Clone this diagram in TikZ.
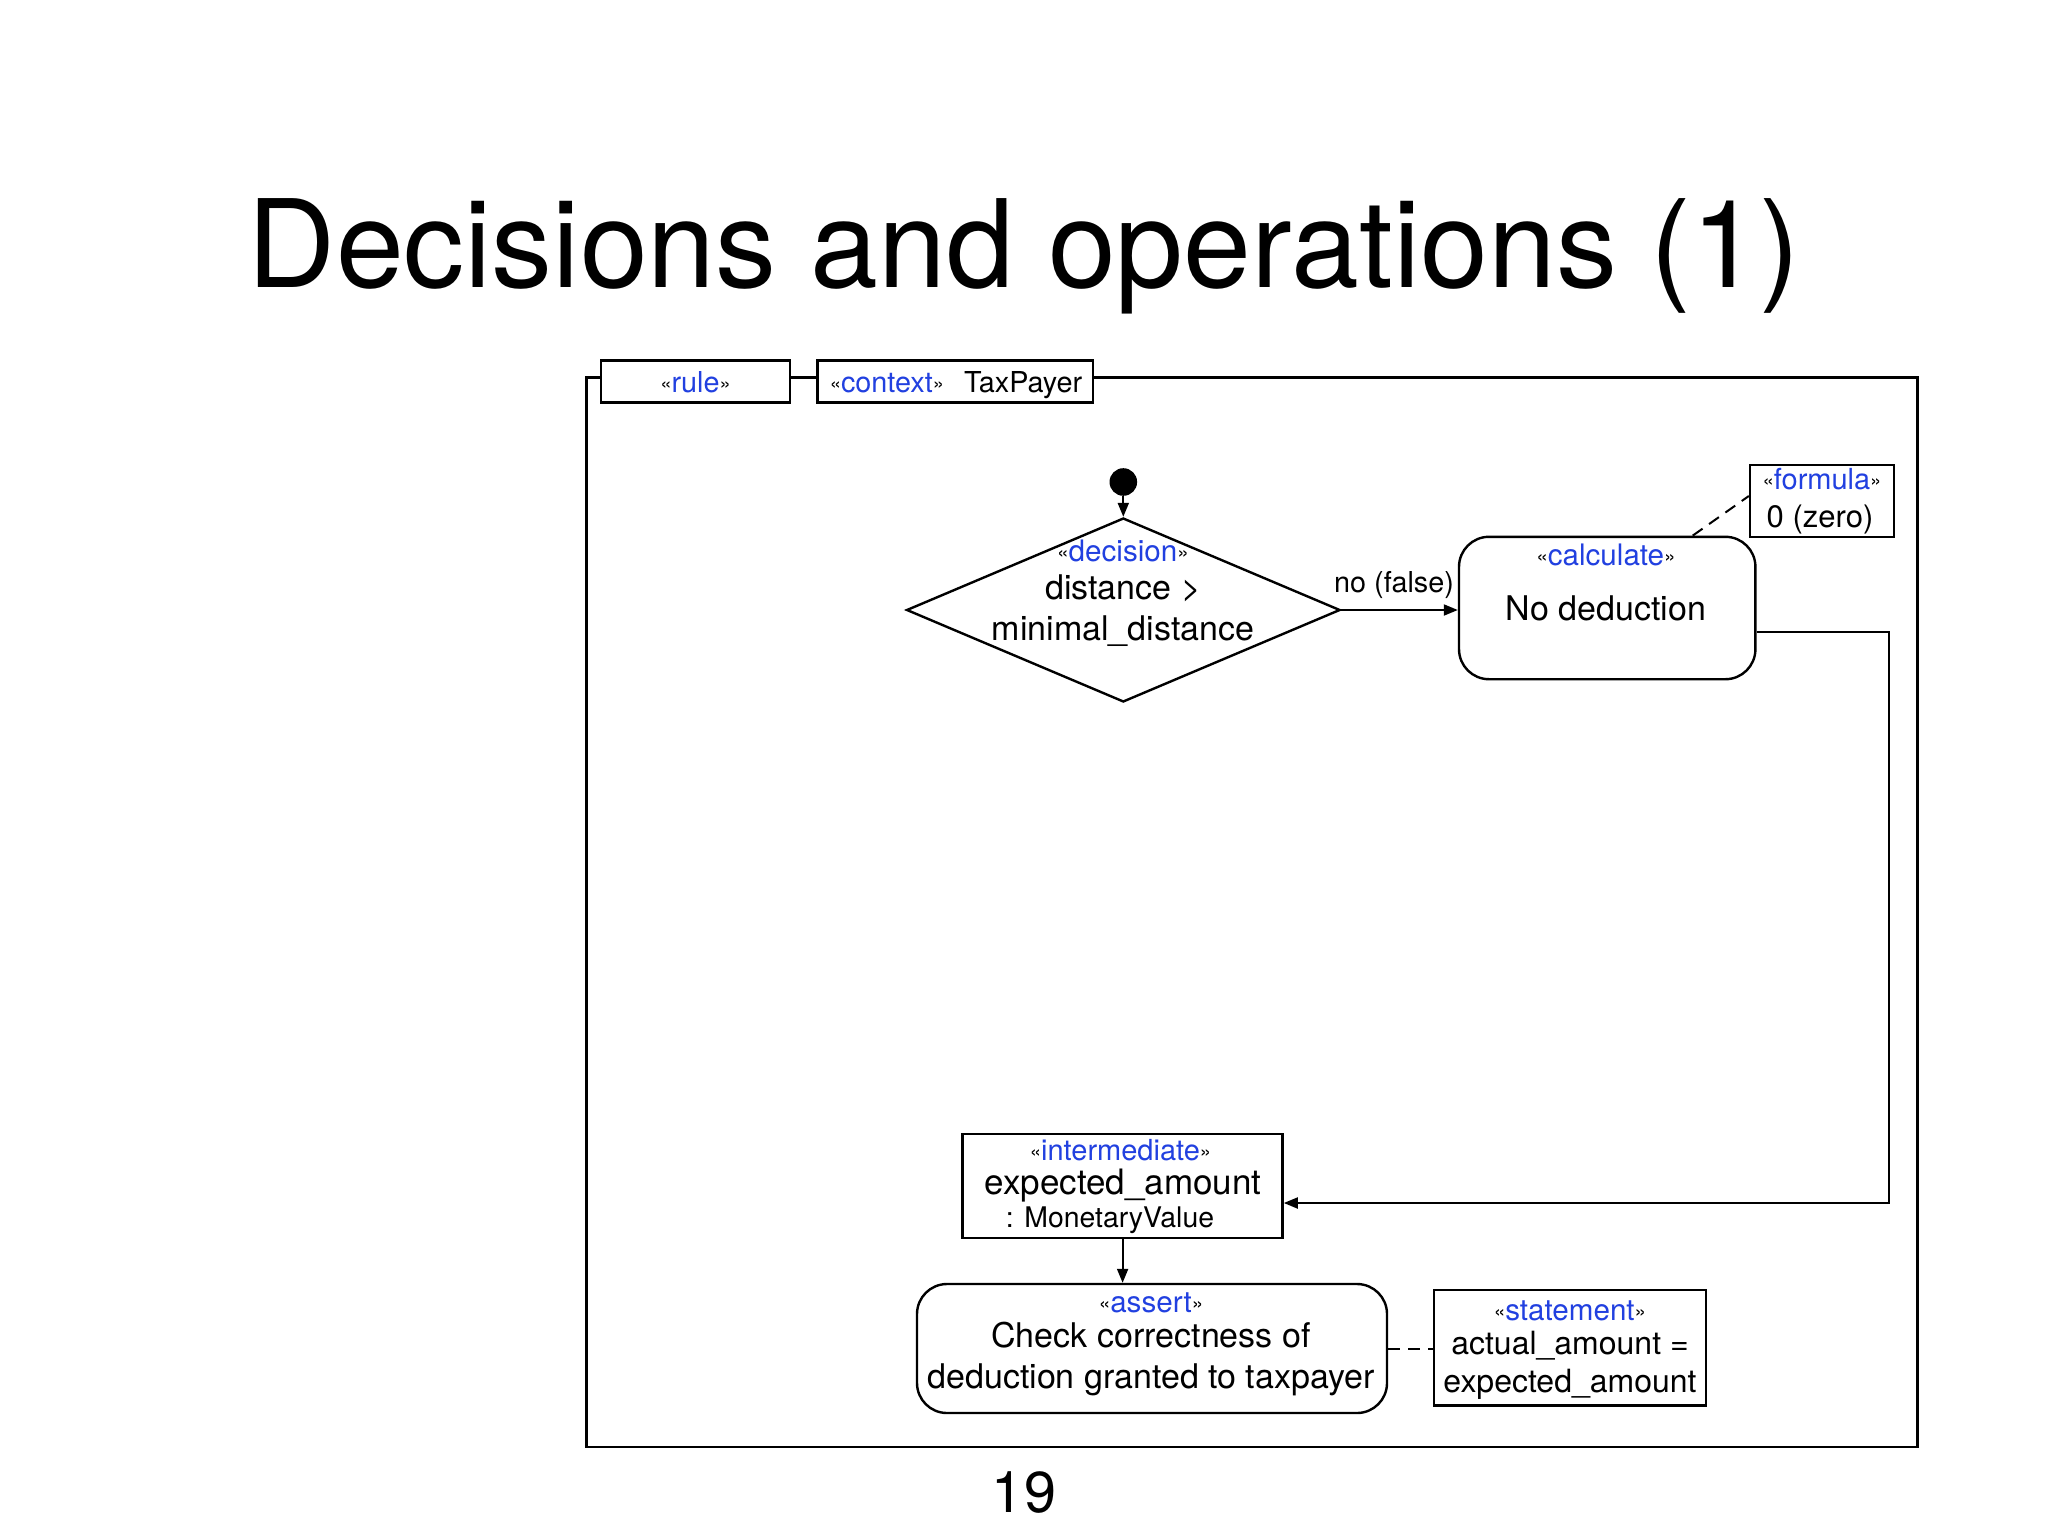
\documentclass[tikz,border=0pt]{standalone}
\usepackage{fontspec}
\setmainfont{TeX Gyre Heros}
\usetikzlibrary{shapes.geometric,arrows.meta,calc}
\definecolor{stblue}{RGB}{33,64,224}
\newcommand\stt[1]{\raisebox{0.05em}{\scalebox{0.7}{«}}\textcolor{stblue}{#1}\raisebox{0.05em}{\scalebox{0.7}{»}}}
\newcommand\fsz[1]{\fontsize{#1}{#1}\selectfont}
\begin{document}
\begin{tikzpicture}[x=0.5pt,y=-0.5pt,
  lbl/.style={inner sep=0pt, anchor=base},
  box/.style={draw, line width=1.2pt, fill=white, inner sep=0pt},
  rbox/.style={box, rounded corners=15pt},
  arr/.style={-{Triangle[length=7pt,width=5.5pt]}, line width=1pt},
  dsh/.style={line width=1pt, dash pattern=on 6pt off 4pt}]
\useasboundingbox[fill=white] (0,0) rectangle (2048,1536);

% title and page number
\node[lbl, font=\fsz{61}] (title) at (1024,287) {Decisions and operations (1)};
\node[lbl, font=\fsz{28.8}] (pnum) at (1024,1512) {19};

% frame
\node[draw, line width=1.1pt, minimum width=665.5pt, minimum height=534.85pt, inner sep=0pt] (frame) at (1251.9,912.35) {};
\node[box, minimum width=94.7pt, minimum height=20.9pt] (rule) at (695.5,381.4) {};
\node[box, minimum width=137.8pt, minimum height=20.9pt] (ctx) at (955.4,381.4) {};
\node[lbl, font=\fsz{14.4}] (rulet) at (695.5,392) {\stt{rule}};
\node[lbl, font=\fsz{14.4}] (ctxt) at (956,392) {\stt{context}\hspace{0.7em}TaxPayer};

% start and decision
\node[circle, fill=black, minimum size=13.8pt, inner sep=0pt] (start) at (1123.3,482) {};
\node[diamond, draw, line width=1.2pt, minimum width=216.8pt, minimum height=92pt, inner sep=0pt] (dec) at (1123.3,610) {};
\node[lbl, font=\fsz{14.8}] (dect1) at (1123,561) {\stt{decision}};
\node[lbl, font=\fsz{17}] (dect2) at (1123,599) {distance >};
\node[lbl, font=\fsz{17}] (dect3) at (1123,640) {minimal\_distance};

% calculate
\node[rbox, minimum width=148.2pt, minimum height=71.2pt] (calc) at (1607.2,608) {};
\node[lbl, font=\fsz{14.8}] (calct1) at (1606,565) {\stt{calculate}};
\node[lbl, font=\fsz{17}] (calct2) at (1606,620.5) {No deduction};

% formula
\node[box, minimum width=72pt, minimum height=36pt] (form) at (1822,501) {};
\node[lbl, font=\fsz{14.5}] (formt1) at (1822,489) {\stt{formula}};
\node[lbl, font=\fsz{15.5}] (formt2) at (1820,527) {0 (zero)};

% intermediate
\node[box, minimum width=160pt, minimum height=52.25pt] (inter) at (1122.6,1186) {};
\node[lbl, font=\fsz{14.5}] (intt1) at (1120.5,1160) {\stt{intermediate}};
\node[lbl, font=\fsz{17.5}] (intt2) at (1123,1194) {expected\_amount};
\node[lbl, font=\fsz{14.2}] (intt3) at (1110,1227) {: MonetaryValue};

% assert
\node[rbox, minimum width=235pt, minimum height=64.5pt] (assert) at (1152,1348.5) {};
\node[lbl, font=\fsz{14.8}] (asst1) at (1151,1312) {\stt{assert}};
\node[lbl, font=\fsz{17}] (asst2) at (1151,1347) {Check correctness of};
\node[lbl, font=\fsz{17}] (asst3) at (1151,1388) {deduction granted to taxpayer};

% statement
\node[box, minimum width=136pt, minimum height=57.7pt] (stmt) at (1570,1347.7) {};
\node[lbl, font=\fsz{14.8}] (stmt1) at (1570,1320) {\stt{statement}};
\node[lbl, font=\fsz{16}] (stmt2) at (1570,1354) {actual\_amount =};
\node[lbl, font=\fsz{16}] (stmt3) at (1570,1392) {expected\_amount};

% connectors
\draw[arr] (start) -- (dec.north);
\draw[arr] (dec.east) -- (dec.east -| calc.west);
\node[lbl, font=\fsz{14.4}] (nolbl) at (1394,592) {no (false)};
\coordinate (c1) at (1888.6,632);
\coordinate (c2) at (1888.6,1203);
\draw[arr] (c1 -| calc.east) -- (c1) -- (c2) -- (c2 -| inter.east);
\draw[arr] (inter.south) -- (inter.south |- assert.north);
\draw[dsh] ($(calc.north)+(85.5,0)$) -- ($(form.west)+(0,-5)$);
\draw[dsh] (assert.east) -- (assert.east -| stmt.west);
\end{tikzpicture}
\end{document}
